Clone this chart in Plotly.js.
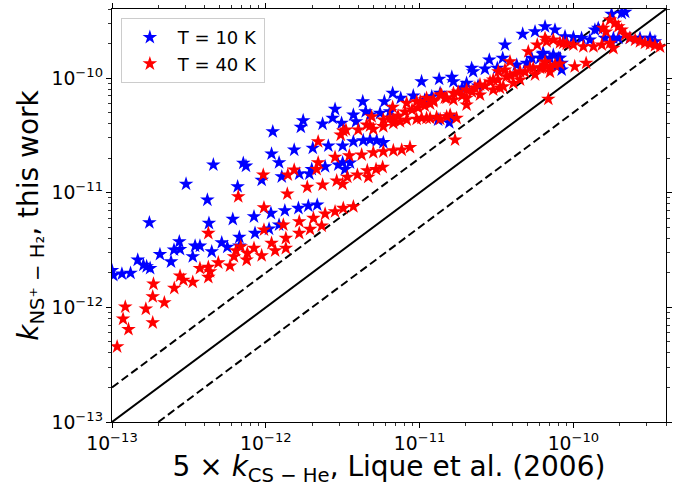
<!DOCTYPE html>
<html>
<head>
<meta charset="utf-8">
<script src="https://cdn.plot.ly/plotly-3.0.1.min.js"></script>
<style>html,body{margin:0;padding:0;background:#fff;}#chart{width:673px;height:487px;}</style>
</head>
<body>
<div id="chart"></div>
<script>
// T = 10 K (blue)
const blueX = [1.0e-13,1.02e-13,1.16e-13,1.32e-13,1.47e-13,1.6e-13,1.68e-13,1.77e-13,1.75e-13,2.05e-13,2.42e-13,2.53e-13,2.77e-13,2.74e-13,3.03e-13,3.35e-13,3.47e-13,3.73e-13,4.17e-13,4.27e-13,4.45e-13,4.56e-13,5.17e-13,5.62e-13,6.1e-13,6.56e-13,6.73e-13,6.73e-13,7.14e-13,7.43e-13,8.38e-13,8.51e-13,9.4e-13,1.05e-12,1.08e-12,1.22e-12,1.22e-12,1.27e-12,1.33e-12,1.63e-12,1.89e-12,2.16e-12,1.09e-12,1.11e-12,1.53e-12,1.65e-12,1.69e-12,1.75e-12,1.92e-12,1.99e-12,2.02e-12,2.34e-12,2.43e-12,2.55e-12,2.72e-12,2.82e-12,2.96e-12,3.11e-12,3.16e-12,3.16e-12,3.27e-12,3.71e-12,3.71e-12,3.86e-12,4.27e-12,4.3e-12,4.46e-12,4.76e-12,4.76e-12,5.26e-12,5.53e-12,5.81e-12,5.9e-12,6.42e-12,6.68e-12,7.54e-12,9.1e-12,1.03e-11,1.34e-11,3.59e-11,2.84e-11,3.47e-11,2.18e-11,2.23e-11,2.66e-11,3.2e-11,1.62e-11,1.66e-11,2.02e-11,4.28e-11,4.97e-11,6.07e-11,6.37e-11,7.4e-11,8.18e-11,8.39e-11,1.08e-11,1.2e-11,1.58e-11,1.56e-11,1.32e-11,1.36e-11,1.89e-11,2.4e-11,7.79e-11,8.39e-11,1.77e-10,2.06e-10,2.17e-10,5.63e-11,6.54e-11,7.59e-11,8.82e-11,1.0e-10,1.13e-10,1.28e-10,1.45e-10,1.38e-10,1.6e-10,1.82e-10,1.96e-10,2.33e-10,2.71e-10,3.15e-10,3.39e-10,6.31e-11,7.04e-11,7.98e-11,5.36e-11,4.68e-11,3.53e-12];
const blueY = [2.1e-12,1.9e-12,1.96e-12,1.99e-12,2.59e-12,2.34e-12,2.27e-12,2.19e-12,5.48e-12,2.9e-12,2.5e-12,3.17e-12,3.21e-12,3.74e-12,1.19e-11,2.77e-12,3.43e-12,3.43e-12,8.65e-12,5.42e-12,3.06e-12,1.75e-11,3.67e-12,3.35e-12,5.87e-12,1.13e-11,4.09e-12,3.43e-12,1.81e-11,1.71e-11,6.18e-12,4.43e-12,1.29e-11,4.83e-12,6.62e-12,5.24e-12,1.83e-11,1.38e-11,6.98e-12,7.32e-12,7.67e-12,7.83e-12,2.18e-11,3.41e-11,2.36e-11,1.46e-11,3.73e-11,4.26e-11,1.46e-11,1.6e-11,2.45e-11,3.98e-11,1.69e-11,2.56e-11,4.47e-11,5.35e-11,1.75e-11,4.04e-11,2.56e-11,1.83e-11,1.6e-11,2.79e-11,4.77e-11,4.17e-11,6.24e-11,2.85e-11,5.1e-11,2.89e-11,4.77e-11,2.85e-11,4.94e-11,2.74e-11,6.24e-11,5.1e-11,7.38e-11,6.68e-11,7.0e-11,9.32e-11,9.78e-11,1.95e-10,1.44e-10,1.49e-10,1.22e-10,1.14e-10,1.2e-10,1.22e-10,1.02e-10,9.32e-11,9.02e-11,1.3e-10,1.35e-10,1.49e-10,1.65e-10,1.59e-10,1.49e-10,1.35e-10,6.45e-11,6.9e-11,4.61e-11,4.09e-11,4.32e-11,7.38e-11,8.2e-11,8.55e-11,1.26e-10,1.18e-10,3.61e-10,3.68e-10,3.76e-10,2.54e-10,2.81e-10,2.63e-10,2.3e-10,2.26e-10,2.23e-10,2.15e-10,2.72e-10,2.63e-10,2.23e-10,2.23e-10,2.23e-10,2.23e-10,2.23e-10,2.23e-10,2.08e-10,1.62e-10,1.49e-10,1.49e-10,1.49e-10,2.42e-10,1.82e-11];

// T = 40 K (red)
const redX = [1.08e-13,1.18e-13,1.22e-13,1.28e-13,1.66e-13,1.84e-13,1.84e-13,1.86e-13,2.19e-13,2.54e-13,2.77e-13,2.91e-13,3.35e-13,3.73e-13,4.23e-13,4.34e-13,4.23e-13,4.23e-13,4.91e-13,5.85e-13,6.21e-13,6.4e-13,6.87e-13,7.51e-13,7.58e-13,6.62e-13,8.38e-13,9.4e-13,9.63e-13,9.73e-13,9.73e-13,1.09e-12,1.15e-12,1.3e-12,1.35e-12,1.35e-12,1.38e-12,1.39e-12,1.65e-12,1.65e-12,1.94e-12,2.04e-12,2.31e-12,2.43e-12,2.82e-12,3.19e-12,3.71e-12,1.53e-12,1.86e-12,2.14e-12,2.19e-12,2.19e-12,2.34e-12,2.82e-12,2.89e-12,3.07e-12,3.16e-12,3.19e-12,3.32e-12,3.39e-12,3.49e-12,3.94e-12,3.99e-12,4.2e-12,4.57e-12,4.64e-12,4.76e-12,4.88e-12,5.0e-12,5.0e-12,5.21e-12,5.75e-12,5.81e-12,5.81e-12,6.68e-12,6.75e-12,6.75e-12,7.46e-12,7.65e-12,8.24e-12,8.24e-12,8.66e-12,9.57e-12,9.57e-12,1.11e-11,1.11e-11,1.23e-11,1.29e-11,1.39e-11,1.5e-11,1.5e-11,5.82e-11,5.09e-11,6.7e-11,8.18e-11,9.04e-11,3.87e-11,3.25e-11,3.59e-11,1.01e-11,1.36e-11,1.66e-11,2.02e-11,2.47e-11,3.01e-11,3.68e-11,4.5e-11,5.48e-11,6.7e-11,7.59e-11,1.66e-11,2.02e-11,2.47e-11,3.01e-11,3.5e-11,4.07e-11,1.03e-11,1.17e-11,1.36e-11,1.58e-11,1.74e-11,1.7e-11,6.87e-11,1.23e-11,2.02e-11,1.73e-10,1.86e-10,1.96e-10,2.06e-10,2.17e-10,2.33e-10,2.52e-10,2.71e-10,2.92e-10,3.15e-10,3.39e-10,1.56e-10,6.54e-11,7.4e-11,8.6e-11,1.0e-10,1.16e-10,1.35e-10,1.53e-10,1.73e-10,1.82e-10,5.22e-11,6.07e-11,7.04e-11,1.02e-10,1.21e-10,5.81e-12,6.75e-12,4.53e-12,6.42e-12,7.24e-12,8.04e-12,8.93e-12,9.77e-12,1.08e-11,1.17e-11,1.46e-11,1.78e-11,1.89e-11,2.19e-11,2.29e-11,2.66e-11,2.87e-11,3.23e-11,3.87e-11,4.17e-11,4.84e-11,6.25e-11,8.18e-11,3.33e-11,4.5e-11,5.63e-11,7.04e-11,6.54e-11,3.66e-10,1.63e-10];
const redY = [4.54e-13,7.92e-13,1.01e-12,6.44e-13,9.68e-13,1.24e-12,7.35e-13,1.6e-12,1.1e-12,1.47e-12,1.88e-12,1.73e-12,1.66e-12,2.19e-12,2.24e-12,2.05e-12,1.83e-12,4.43e-12,2.45e-12,2.3e-12,2.77e-12,3.12e-12,3.39e-12,2.59e-12,2.97e-12,9.25e-12,3.28e-12,2.83e-12,1.43e-11,7.41e-12,4.74e-12,3.63e-12,3.12e-12,5.24e-12,4.01e-12,3.28e-12,9.77e-12,1.43e-11,5.6e-12,4.43e-12,4.8e-12,5.99e-12,5.13e-12,6.53e-12,6.84e-12,7.32e-12,7.56e-12,1.58e-11,1.12e-11,1.6e-11,1.83e-11,2.79e-11,1.17e-11,2.04e-11,1.27e-11,3.19e-11,1.19e-11,3.46e-11,3.53e-11,1.37e-11,2.1e-11,1.43e-11,3.53e-11,2.14e-11,1.56e-11,1.37e-11,3.83e-11,4.61e-11,3.58e-11,2.24e-11,1.6e-11,1.67e-11,4.32e-11,2.28e-11,5.57e-11,4.32e-11,2.33e-11,4.17e-11,2.36e-11,6.04e-11,4.32e-11,2.49e-11,6.24e-11,4.38e-11,6.68e-11,4.47e-11,6.45e-11,4.56e-11,7.13e-11,6.68e-11,4.61e-11,1.95e-10,1.7e-10,2.08e-10,2.04e-10,1.99e-10,1.39e-10,1.14e-10,1.18e-10,6.24e-11,7.13e-11,7.38e-11,7.89e-11,8.73e-11,9.64e-11,1.03e-10,1.14e-10,1.22e-10,1.26e-10,1.3e-10,6.45e-11,6.68e-11,7.13e-11,7.89e-11,8.43e-11,9.02e-11,4.47e-11,4.47e-11,4.38e-11,4.77e-11,4.47e-11,2.89e-11,6.55e-11,6.24e-11,5.84e-11,3.22e-10,3.01e-10,2.81e-10,2.63e-10,2.38e-10,2.23e-10,2.15e-10,2.08e-10,2.02e-10,1.98e-10,1.92e-10,2.72e-10,2.23e-10,2.15e-10,2.02e-10,1.95e-10,1.88e-10,1.88e-10,1.95e-10,2.02e-10,1.82e-10,1.22e-10,1.22e-10,1.26e-10,1.26e-10,1.35e-10,3.78e-11,4.04e-11,3.91e-11,4.5e-11,4.68e-11,5.07e-11,5.28e-11,5.5e-11,5.72e-11,5.96e-11,6.72e-11,7.58e-11,7e-11,7.58e-11,8.2e-11,8.55e-11,9.27e-11,9.64e-11,1.05e-10,1.09e-10,1.13e-10,1.23e-10,1.33e-10,8.2e-11,9.64e-11,1.07e-10,1.13e-10,1.38e-10,1.87e-10,2.53e-10];

// reference lines: y = x, y = 2x, y = x/2
const axisMin = 1e-13, axisMax = 4e-10;
const lineX = [axisMin, axisMax];
const upperX = [axisMin, axisMax / 2];
const lowerX = [2 * axisMin, axisMax];

const lineColor = '#000000';
const traces = [
  {x: lineX, y: lineX, mode: 'lines', line: {color: lineColor, width: 2}, showlegend: false, hoverinfo: 'skip'},
  {x: upperX, y: upperX.map(v => 2 * v), mode: 'lines', line: {color: lineColor, width: 2, dash: '8px,4px'}, showlegend: false, hoverinfo: 'skip'},
  {x: lowerX, y: lowerX.map(v => v / 2), mode: 'lines', line: {color: lineColor, width: 2, dash: '8px,4px'}, showlegend: false, hoverinfo: 'skip'},
  {x: blueX, y: blueY, mode: 'markers', name: 'T = 10 K', marker: {symbol: 'star', size: 11, color: '#0000ff', line: {width: 0}}},
  {x: redX, y: redY, mode: 'markers', name: 'T = 40 K', marker: {symbol: 'star', size: 11, color: '#ff0000', line: {width: 0}}}
];

const axisCommon = {
  type: 'log',
  range: [Math.log10(axisMin), Math.log10(axisMax)],
  dtick: 1,
  exponentformat: 'power',
  showgrid: false,
  zeroline: false,
  showline: true,
  linecolor: '#000',
  linewidth: 1,
  mirror: 'allticks',
  ticks: 'outside',
  ticklen: 5,
  tickwidth: 1,
  tickcolor: '#000',
  tickfont: {family: 'DejaVu Sans', size: 15, color: '#000'},
  minor: {ticks: 'outside', ticklen: 3, tickwidth: 0.8, tickcolor: '#000', showgrid: false}
};

const layout = {
  width: 673, height: 487,
  margin: {l: 112, r: 7, t: 9, b: 65},
  paper_bgcolor: '#fff', plot_bgcolor: '#fff',
  font: {family: 'DejaVu Sans', color: '#000'},
  showlegend: true,
  legend: {x: 0.016, y: 0.978, xanchor: 'left', yanchor: 'top', bgcolor: 'rgba(255,255,255,0.8)', bordercolor: '#cccccc', borderwidth: 1, itemwidth: 46, font: {family: 'DejaVu Sans', size: 18, color: '#000'}},
  xaxis: Object.assign({}, axisCommon, {title: {text: '5 × <i>k</i><sub>CS − He</sub>, Lique et al. (2006)', font: {family: 'DejaVu Sans', size: 28, color: '#000'}, standoff: 7}}),
  yaxis: Object.assign({}, axisCommon, {title: {text: '<i>k</i><sub>NS⁺ − H₂</sub>, this work', font: {family: 'DejaVu Sans', size: 28, color: '#000'}, standoff: 4}})
};

Plotly.newPlot('chart', traces, layout, {displayModeBar: false, staticPlot: true});
</script>
</body>
</html>
